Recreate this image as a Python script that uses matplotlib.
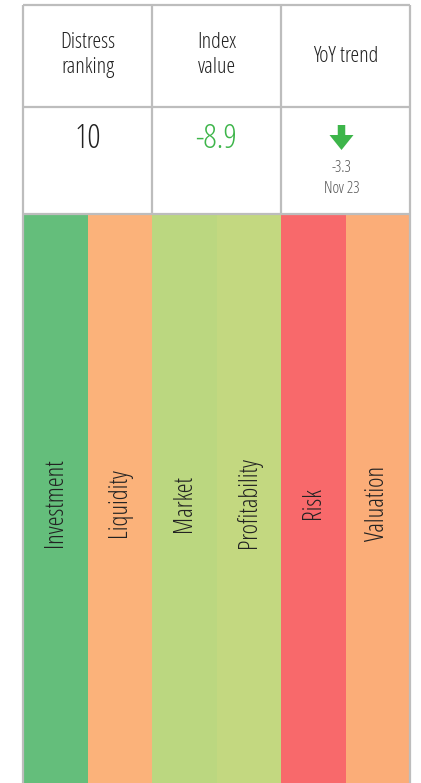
"""
Distress index summary card: header table plus pillar colour strips.
"""

import matplotlib.pyplot as plt
from matplotlib.patches import FancyArrow

# Data
header_labels = ['Distress\nranking', 'Index\nvalue', 'YoY trend']
distress_ranking = 10
index_value = -8.9
yoy_change = -3.3
yoy_period = 'Nov 23'

pillars = ['Investment', 'Liquidity', 'Market', 'Profitability', 'Risk', 'Valuation']
pillar_colors = ['#64BE7B', '#FBB27A', '#BBD780', '#C3D880', '#F8696B', '#FBAD78']

FONT = dict(family=['Open Sans', 'DejaVu Sans'], fontstretch='condensed',
            fontweight='medium')
GRID = '#BDBDBD'
GREEN = '#3DB54A'

fig = plt.figure(figsize=(4.21, 7.83), dpi=100)
ax = fig.add_axes([0, 0, 1, 1])
ax.set_xlim(0, 421)
ax.set_ylim(783, 0)
ax.axis('off')

left, right = 23, 410
top, mid, head_bottom = 5, 107, 214
col_w = (right - left) / 3
bar_w = (right - left) / len(pillars)

# pillar strips
xs = [left + bar_w * (i + 0.5) for i in range(len(pillars))]
ax.bar(xs, 783 - head_bottom, bottom=head_bottom, width=bar_w,
       color=pillar_colors, linewidth=0)
for x, name in zip(xs, pillars):
    ax.text(x, 503, name, rotation=90, ha='center', va='center',
            fontsize=18, color='#222222', **FONT)

# table grid
lw = 1.6
for y in [top, mid, head_bottom]:
    ax.plot([left, right], [y, y], color=GRID, lw=lw, solid_capstyle='butt')
for i in range(4):
    x = left + col_w * i
    y1 = 783 if i in (0, 3) else head_bottom
    ax.plot([x, x], [top, y1], color=GRID, lw=lw, solid_capstyle='butt')

# header
centers = [left + col_w * (i + 0.5) for i in range(3)]
for x, lab in zip(centers, header_labels):
    y = 55 if '\n' in lab else 57
    ax.text(x, y, lab, ha='center', va='center', fontsize=16,
            color='#222222', linespacing=1.25, **FONT)

# values
ax.text(centers[0], 139, str(distress_ranking), ha='center', va='center',
        fontsize=24, color='#222222', **FONT)
ax.text(centers[1], 139, f'{index_value:.1f}', ha='center', va='center',
        fontsize=24, color=GREEN, **FONT)

arrow_color = GREEN if yoy_change < 0 else '#F8696B'
ax.add_patch(FancyArrow(centers[2] - 4, 125, 0, 25, width=7.5, head_width=24,
                        head_length=15, length_includes_head=True,
                        color=arrow_color, lw=0))
ax.text(centers[2] - 4, 168, f'{yoy_change:.1f}', ha='center', va='center',
        fontsize=11.5, color='#555555', **FONT)
ax.text(centers[2] - 4, 189, yoy_period, ha='center', va='center',
        fontsize=11.5, color='#555555', **FONT)

fig.savefig('out.png', dpi=100)
